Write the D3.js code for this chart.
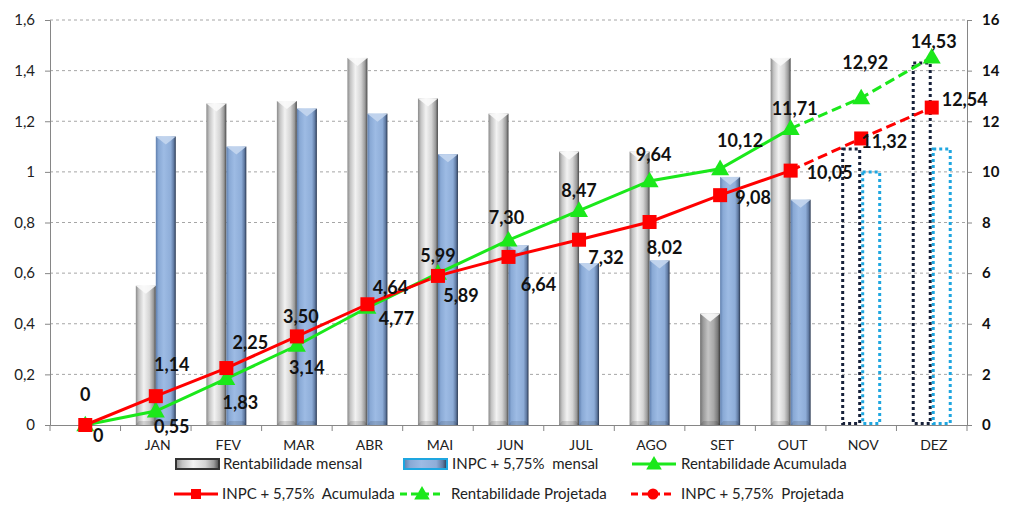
<!DOCTYPE html>
<html><head><meta charset="utf-8">
<script src="https://cdn.jsdelivr.net/npm/d3@7"></script>
<style>html,body{margin:0;padding:0;background:#fff}svg{display:block}text{white-space:pre}</style>
</head><body>
<svg id="c" width="1024" height="517"></svg>
<script>
// ---- data ----
const categories = ["", "JAN", "FEV", "MAR", "ABR", "MAI", "JUN", "JUL", "AGO", "SET", "OUT", "NOV", "DEZ"];
const rentMensal = [null, 0.55, 1.27, 1.28, 1.45, 1.29, 1.23, 1.08, 1.08, 0.44, 1.45, null, null];
const inpcMensal = [null, 1.14, 1.10, 1.25, 1.23, 1.07, 0.71, 0.64, 0.65, 0.98, 0.89, null, null];
const rentMensalProj = [null, null, null, null, null, null, null, null, null, null, null, 1.09, 1.43];
const inpcMensalProj = [null, null, null, null, null, null, null, null, null, null, null, 1.00, 1.09];
const rentAcum = [0, 0.55, 1.83, 3.14, 4.64, 5.99, 7.30, 8.47, 9.64, 10.12, 11.71, null, null];
const inpcAcum = [0, 1.14, 2.25, 3.50, 4.77, 5.89, 6.64, 7.32, 8.02, 9.08, 10.05, null, null];
const rentProj = [null, null, null, null, null, null, null, null, null, null, 11.71, 12.92, 14.53];
const inpcProj = [null, null, null, null, null, null, null, null, null, null, 10.05, 11.32, 12.54];
const leftTicks = [0, 0.2, 0.4, 0.6, 0.8, 1, 1.2, 1.4, 1.6];
const rightTicks = [0, 2, 4, 6, 8, 10, 12, 14, 16];

// ---- label placement (style, px offsets from point) ----
const redLabelOff = [[0,-30],[16,-32],[24,-26],[4,-20],[29,14],[23,20],[30,28],[27,18],[15,26],[33,2],[39,2],[23,3],[33,-8]];
const greenLabelOff = [[13,11],[16,15],[14,24],[10,22],[23,-20],[0,-18],[-2,-23],[0,-20],[4,-26],[20,-28],[4,-20],[4,-35],[2,-16]];

d3.formatDefaultLocale({decimal: ",", thousands: ".", grouping: [3], currency: ["R$", ""]});
const fLeft = d3.format(".1~f");
const fLab = d3.format(".2f");
const labFmt = v => v === 0 ? "0" : fLab(v);

const svg = d3.select("#c");
const L = 50, R = 967, T = 20, B = 425;
const x = d3.scaleBand().domain(d3.range(categories.length)).range([L, R]).padding(0);
const cx = i => x(i) + x.bandwidth() / 2;
const yL = d3.scaleLinear().domain([0, 1.6]).range([B, T]);
const yR = d3.scaleLinear().domain([0, 16]).range([B, T]);
const FONT = "Lato, 'Open Sans', sans-serif";

svg.append("rect").attr("width", 1024).attr("height", 517).attr("fill", "#fff");

// gradients
const defs = svg.append("defs");
function grad(id, stops) {
  const g = defs.append("linearGradient").attr("id", id).attr("x1", "0").attr("x2", "1").attr("y1", "0").attr("y2", "0");
  stops.forEach(s => g.append("stop").attr("offset", s[0]).attr("stop-color", s[1]));
}
grad("gGray", [["0%", "#8a8a8a"], ["15%", "#c4c4c4"], ["40%", "#f2f2f2"], ["68%", "#d4d4d4"], ["88%", "#9a9a9a"], ["100%", "#4a4a4a"]]);
grad("gGrayDark", [["0%", "#707070"], ["15%", "#9a9a9a"], ["40%", "#c4c4c4"], ["68%", "#a8a8a8"], ["88%", "#7a7a7a"], ["100%", "#3a3a3a"]]);
grad("gBlue", [["0%", "#5f7fae"], ["14%", "#89a9d5"], ["40%", "#9dbbe4"], ["75%", "#8eadd8"], ["90%", "#607aa2"], ["100%", "#2a3850"]]);

// gridlines
svg.append("g").selectAll("line").data(leftTicks.filter(d => d > 0)).join("line")
  .attr("x1", L).attr("x2", R).attr("y1", d => yL(d)).attr("y2", d => yL(d))
  .attr("stroke", "#a6a6a6").attr("stroke-width", 1).attr("stroke-dasharray", "3,3");

// bars
const barW = 20;
function cylBars(vals, offset, fillFn, topFill) {
  const g = svg.append("g");
  vals.forEach((v, i) => {
    if (v == null) return;
    const x0 = cx(i) + offset, y0 = yL(v);
    g.append("rect").attr("x", x0).attr("y", y0).attr("width", barW).attr("height", B - y0).attr("fill", fillFn(i));
    g.append("path").attr("d", `M${x0},${y0}L${x0 + barW},${y0}L${x0 + barW / 2},${y0 + 8}Z`).attr("fill", topFill).attr("opacity", 0.9);
    g.append("path").attr("d", `M${x0},${B}L${x0 + barW},${B}L${x0 + barW - 3},${B - 4}L${x0 + 3},${B - 4}Z`).attr("fill", "#000").attr("opacity", 0.12);
  });
}
cylBars(rentMensal, -barW, i => categories[i] === "SET" ? "url(#gGrayDark)" : "url(#gGray)", "#fafafa");
cylBars(inpcMensal, 0, () => "url(#gBlue)", "#c4d6ee");

function dottedBars(vals, offset, color) {
  const g = svg.append("g");
  vals.forEach((v, i) => {
    if (v == null) return;
    const x0 = cx(i) + offset, y0 = yL(v);
    g.append("rect").attr("x", x0 + 1.5).attr("y", y0).attr("width", barW - 3).attr("height", B - y0 - 1.5)
      .attr("fill", "none").attr("stroke", color).attr("stroke-width", 3).attr("stroke-dasharray", "3,3");
  });
}
dottedBars(rentMensalProj, -barW, "#17213a");
dottedBars(inpcMensalProj, 0, "#1ea6e0");

// axes
const axisColor = "#868686";
const gl = svg.append("g").attr("transform", `translate(${L},0)`)
  .call(d3.axisLeft(yL).tickValues(leftTicks).tickFormat(fLeft).tickSize(5).tickPadding(10));
gl.select(".domain").attr("stroke", axisColor);
gl.selectAll(".tick line").attr("stroke", axisColor);
gl.selectAll("text").attr("font-family", FONT).attr("font-size", 15).attr("fill", "#222");

const gr = svg.append("g").attr("transform", `translate(${R},0)`)
  .call(d3.axisRight(yR).tickValues(rightTicks).tickSize(5).tickPadding(10));
gr.select(".domain").attr("stroke", axisColor);
gr.selectAll(".tick line").attr("stroke", axisColor);
gr.selectAll("text").attr("font-family", FONT).attr("font-size", 15).attr("font-weight", "bold").attr("fill", "#111");

const gx = svg.append("g").attr("transform", `translate(0,${B})`)
  .call(d3.axisBottom(x).tickFormat(i => categories[i]).tickSize(0).tickPadding(15));
gx.select(".domain").attr("stroke", axisColor);
gx.selectAll("text").attr("font-family", FONT).attr("font-size", 14).attr("fill", "#222").attr("dx", 2);
svg.append("g").selectAll("line").data(d3.range(categories.length + 1)).join("line")
  .attr("x1", i => L + i * x.bandwidth()).attr("x2", i => L + i * x.bandwidth())
  .attr("y1", B).attr("y2", B + 6).attr("stroke", axisColor);

// lines
function lineSeries(vals, color, dash) {
  const pts = vals.map((v, i) => [i, v]).filter(d => d[1] != null);
  svg.append("path").datum(pts)
    .attr("d", d3.line().x(d => cx(d[0])).y(d => yR(d[1])))
    .attr("fill", "none").attr("stroke", color).attr("stroke-width", 3)
    .attr("stroke-dasharray", dash || null);
}
const GREEN = "#1be81b", RED = "#ff0000";
lineSeries(rentProj, GREEN, "10,5");
lineSeries(inpcProj, RED, "10,5");
lineSeries(rentAcum, GREEN);
lineSeries(inpcAcum, RED);

function tri(g, x0, y0, s, color) {
  g.append("path").attr("d", `M${x0},${y0 - s * 0.62}L${x0 + s * 0.6},${y0 + s * 0.42}L${x0 - s * 0.6},${y0 + s * 0.42}Z`).attr("fill", color);
}
function sq(g, x0, y0, s, color) {
  g.append("rect").attr("x", x0 - s / 2).attr("y", y0 - s / 2).attr("width", s).attr("height", s).attr("fill", color);
}
const mg = svg.append("g");
rentProj.forEach((v, i) => { if (v != null && rentAcum[i] == null) tri(mg, cx(i), yR(v), 15, GREEN); });
inpcProj.forEach((v, i) => { if (v != null && inpcAcum[i] == null) sq(mg, cx(i), yR(v), 14, RED); });
rentAcum.forEach((v, i) => { if (v != null) tri(mg, cx(i), yR(v), 15, GREEN); });
inpcAcum.forEach((v, i) => { if (v != null) sq(mg, cx(i), yR(v), 14, RED); });

// data labels
const lg = svg.append("g").attr("font-family", FONT).attr("font-size", 18).attr("font-weight", "bold").attr("fill", "#111").attr("text-anchor", "middle");
function labels(vals, offs) {
  vals.forEach((v, i) => {
    if (v == null) return;
    lg.append("text").attr("x", cx(i) + offs[i][0]).attr("y", yR(v) + offs[i][1]).attr("dy", "0.36em").text(labFmt(v));
  });
}
const inpcAll = inpcAcum.map((v, i) => v != null ? v : inpcProj[i]);
const rentAll = rentAcum.map((v, i) => v != null ? v : rentProj[i]);
labels(inpcAll, redLabelOff);
labels(rentAll, greenLabelOff);

// legend
const leg = svg.append("g").attr("font-family", FONT).attr("font-size", 15).attr("fill", "#222");
function legText(xp, yp, t) { leg.append("text").attr("x", xp).attr("y", yp).attr("dy", "0.35em").attr("xml:space", "preserve").text(t); }
function legBar(xp, yp, fill, stroke) {
  leg.append("rect").attr("x", xp).attr("y", yp - 5).attr("width", 43).attr("height", 10).attr("fill", fill).attr("stroke", stroke).attr("stroke-width", 2);
}
function legLine(xp, yp, color, dash, marker) {
  leg.append("line").attr("x1", xp).attr("x2", xp + 44).attr("y1", yp).attr("y2", yp).attr("stroke", color).attr("stroke-width", 3).attr("stroke-dasharray", dash || null);
  if (marker === "tri") tri(leg, xp + 22, yp, 13, color);
  if (marker === "sq") sq(leg, xp + 22, yp, 10, color);
  if (marker === "circ") leg.append("circle").attr("cx", xp + 22).attr("cy", yp).attr("r", 5.5).attr("fill", color);
}
const r1 = 464, r2 = 494;
legBar(176, r1, "url(#gGray)", "#333");
legText(223, r1, "Rentabilidade mensal");
legBar(404, r1, "url(#gBlue)", "#1ea6e0");
legText(452, r1, "INPC + 5,75%  mensal");
legLine(632, r1, GREEN, null, "tri");
legText(681, r1, "Rentabilidade Acumulada");
legLine(174, r2, RED, null, "sq");
legText(222, r2, "INPC + 5,75%  Acumulada");
legLine(400, r2, GREEN, "7,4", "tri");
legText(451, r2, "Rentabilidade Projetada");
legLine(631, r2, RED, "7,4", "circ");
legText(681, r2, "INPC + 5,75%  Projetada");
</script>
</body></html>
